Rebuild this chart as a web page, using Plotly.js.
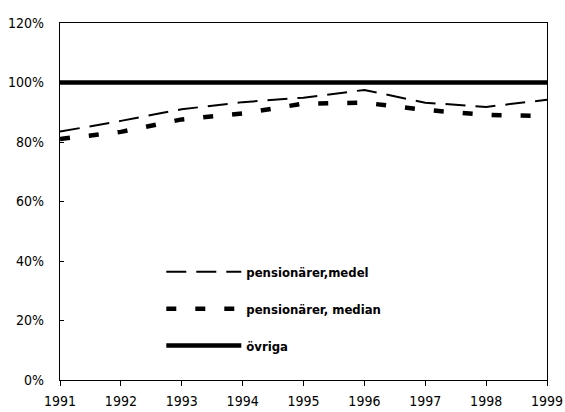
<!DOCTYPE html>
<html><head><meta charset="utf-8">
<script src="https://cdn.plot.ly/plotly-3.0.1.min.js"></script>
<style>html,body{margin:0;padding:0;background:#fff}#chart{width:565px;height:412px}</style>
</head><body><div id="chart"></div>
<script>
const years = [1991, 1992, 1993, 1994, 1995, 1996, 1997, 1998, 1999];
const medel = [0.835, 0.871, 0.910, 0.934, 0.949, 0.975, 0.932, 0.918, 0.942];
const median = [0.810, 0.834, 0.876, 0.896, 0.929, 0.932, 0.908, 0.891, 0.887];
const ovriga = [1, 1, 1, 1, 1, 1, 1, 1, 1];
const names = ['pensionärer,medel', 'pensionärer, median', 'övriga'];
const yTicks = [0, 0.2, 0.4, 0.6, 0.8, 1.0, 1.2];

const FONT = '"DejaVu Sans Condensed", "DejaVu Sans", sans-serif';

const traces = [
  {x: years, y: medel, name: names[0], mode: 'lines', legendgroup: 'a',
   line: {color: '#000', width: 2, dash: '20px,10px'}},
  {x: years, y: median, name: names[1], mode: 'lines', legendgroup: 'b',
   line: {color: '#000', width: 4.5, dash: '10px,19px'}},
  {x: years, y: ovriga, name: names[2], mode: 'lines', legendgroup: 'c',
   line: {color: '#000', width: 4.5}}
];

const layout = {
  width: 565, height: 412,
  margin: {l: 59.5, r: 18, t: 23, b: 32},
  paper_bgcolor: '#fff', plot_bgcolor: '#fff',
  font: {family: FONT, size: 14, color: '#000'},
  showlegend: true,
  legend: {x: 0.208, y: 0.345, xanchor: 'left', yanchor: 'top',
           bgcolor: 'rgba(0,0,0,0)', traceorder: 'grouped', tracegroupgap: 17,
           itemwidth: 75,
           font: {family: FONT, size: 13, color: '#000', weight: 'bold'}},
  xaxis: {range: [1991, 1999], tickvals: years, ticktext: years.map(String),
          showgrid: false, zeroline: false, showline: true, mirror: true,
          linecolor: '#000', linewidth: 1.3, ticks: 'outside', ticklen: 5,
          tickcolor: '#000', tickwidth: 1, ticklabelstandoff: 3,
          tickfont: {family: FONT, size: 14, color: '#000'}},
  xaxis2: {range: [1991, 1999], tickvals: years, overlaying: 'x', anchor: 'y',
           side: 'bottom', showticklabels: false, showgrid: false, zeroline: false,
           showline: false, ticks: 'inside', ticklen: 5, tickcolor: '#000', tickwidth: 1},
  yaxis: {range: [0, 1.2], tickvals: yTicks, tickformat: '.0%',
          showgrid: false, zeroline: false, showline: true, mirror: true,
          linecolor: '#000', linewidth: 1.3, ticks: 'inside', ticklen: 4,
          tickcolor: '#000', tickwidth: 1, ticklabelstandoff: 12,
          tickfont: {family: FONT, size: 14, color: '#000'}}
};

Plotly.newPlot('chart', traces, layout, {displayModeBar: false, staticPlot: true});
</script></body></html>
